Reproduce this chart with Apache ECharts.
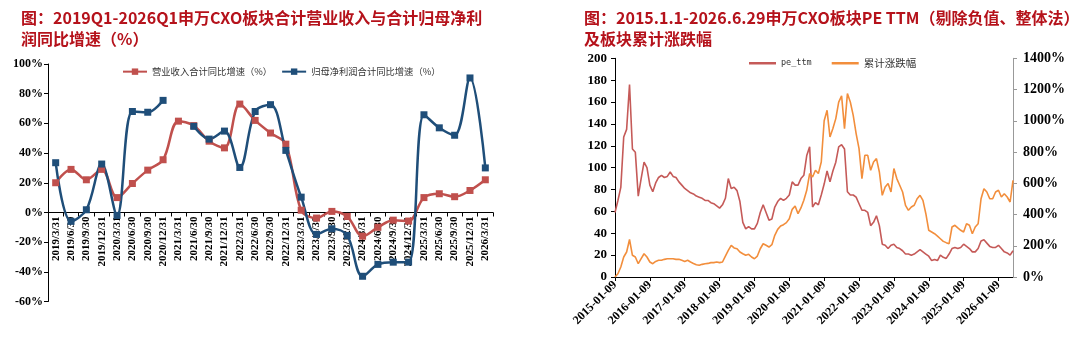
<!DOCTYPE html>
<html>
<head>
<meta charset="utf-8">
<title>CXO</title>
<script src="https://cdn.jsdelivr.net/npm/echarts/dist/echarts.min.js"></script>
<style>
  html, body { margin: 0; padding: 0; background: #fff; }
  #main { width: 1080px; height: 345px; }
</style>
</head>
<body>
<div id="main"></div>
<script>
// 左图：季度同比增速
var quarters = [
  '2019/3/31', '2019/6/30', '2019/9/30', '2019/12/31',
  '2020/3/31', '2020/6/30', '2020/9/30', '2020/12/31',
  '2021/3/31', '2021/6/30', '2021/9/30', '2021/12/31',
  '2022/3/31', '2022/6/30', '2022/9/30', '2022/12/31',
  '2023/3/31', '2023/6/30', '2023/9/30', '2023/12/31',
  '2024/3/31', '2024/6/30', '2024/9/30', '2024/12/31',
  '2025/3/31', '2025/6/30', '2025/9/30', '2025/12/31',
  '2026/3/31'
];
var revenueYoY = [20, 29, 22, 29, 10, 19.5, 28.5, 35.5, 61.5, 58.5, 48, 43.5, 73, 62, 53.5, 46,
  1.5, -3.8, 0.7, -2.7, -16, -10, -5.2, -5.8, 10, 12.6, 10.6, 14.8, 22];
var profitYoY = [33.5, -6, 1.8, 32.6, -2, 68, 67.5, 75.5, null, 58, 49.4, 54.8, 30.3, 68, 72.6, 41.8,
  10.3, -14.8, -11, -15.5, -43, -35, -33.5, -33.5, 65.8, 57, 52, 90.6, 30];

// 右图：月度采样 PE TTM 与累计涨跌幅(%)
var peTtm = [
  59, 70, 82, 128, 135, 176, 117, 114, 74, 90, 105, 100,   // 2015
  84, 78, 86, 91, 93, 91, 92, 96, 92, 91, 87, 84,          // 2016
  81, 79, 77, 76, 74, 73, 72, 70, 70, 68, 67, 65,          // 2017
  63, 66, 72, 90, 81, 82, 79, 69, 50, 44, 46, 44,          // 2018
  44, 49, 59, 66, 59, 52, 53, 64, 69, 72, 70, 72,          // 2019
  75, 87, 84, 84, 90, 93, 111, 119, 64, 68, 66, 75,        // 2020
  85, 97, 87, 97, 105, 119, 121, 117, 78, 75, 75, 73,      // 2021
  67, 61, 61, 59, 47, 50, 56, 47, 30, 29, 26, 29,          // 2022
  30, 27, 26, 24, 21, 21, 20, 21, 23, 25, 23, 21,          // 2023
  19, 15, 16, 15, 20, 18, 17, 21, 26, 27, 26, 27,          // 2024
  30, 28, 26, 23, 23, 26, 33, 34, 31, 28, 27, 27,          // 2025
  29, 26, 23, 22, 20, 24                                   // 2026
];
var cumChg = [
  0, 21, 64, 128, 160, 240, 139, 128, 85, 117, 149, 128,
  96, 85, 100, 107, 107, 113, 117, 117, 117, 113, 113, 107,
  100, 107, 96, 87, 79, 75, 81, 85, 87, 92, 92, 96,
  92, 96, 134, 171, 203, 186, 181, 160, 149, 139, 145, 128,
  117, 134, 181, 213, 203, 192, 207, 267, 305, 326, 335, 348,
  373, 433, 455, 405, 442, 491, 555, 662, 640, 683, 662, 736,
  1000, 1067, 896, 950, 1014, 1120, 1160, 950, 1174, 1120, 1035, 918,
  822, 630, 779, 779, 683, 736, 758, 672, 523, 576, 598, 544,
  694, 630, 587, 544, 459, 427, 448, 459, 501, 523, 491, 405,
  299, 288, 277, 262, 245, 228, 220, 213, 320, 331, 314, 299,
  288, 341, 331, 277, 320, 341, 501, 565, 544, 501, 501, 544,
  555, 512, 533, 512, 480, 619
];
var dates = [];
for (var y = 2015; y <= 2026; y++) {
  for (var m = 1; m <= 12; m++) {
    if (dates.length < peTtm.length) {
      dates.push(y + '-' + (m < 10 ? '0' + m : m) + '-09');
    }
  }
}
dates[dates.length - 1] = '2026-06-29';

var serif = '"Liberation Serif", "Times New Roman", serif';
var cjk = '"Noto Sans CJK SC", sans-serif';
var isYearTick = function (index, value) { return /-01-09$/.test(value); };

var myChart = echarts.init(document.getElementById('main'));

var option = {
  backgroundColor: '#fff',
  animation: false,
  title: [{
    text: '图：2019Q1-2026Q1申万CXO板块合计营业收入与合计归母净利\n润同比增速（%）',
    left: 16, top: 2,
    textStyle: { fontFamily: cjk, fontSize: 16, fontWeight: 'bold', color: '#B5121B', lineHeight: 21 }
  }, {
    text: '图：2015.1.1-2026.6.29申万CXO板块PE TTM（剔除负值、整体法）\n及板块累计涨跌幅',
    left: 579, top: 2,
    textStyle: { fontFamily: cjk, fontSize: 16, fontWeight: 'bold', color: '#B5121B', lineHeight: 21 }
  }],
  legend: [{
    left: 117, top: 62,
    itemWidth: 24, itemHeight: 8, itemGap: 9,
    textStyle: { fontFamily: cjk, fontSize: 9.3, color: '#333' },
    data: ['营业收入合计同比增速（%）', '归母净利润合计同比增速（%）']
  }, {
    left: 744, top: 53,
    icon: 'rect', itemWidth: 27, itemHeight: 2.5, itemGap: 20,
    textStyle: { fontFamily: cjk, fontSize: 10.5, color: '#333' },
    data: [{ name: 'pe_ttm', textStyle: { fontFamily: '"DejaVu Sans Mono", monospace', fontSize: 8.5 } }, '累计涨跌幅']
  }],
  grid: [
    { left: 48, top: 64, width: 445, height: 237.5, outerBoundsMode: 'none', containLabel: false },
    { left: 615, top: 58.3, width: 398, height: 218.7, outerBoundsMode: 'none', containLabel: false }
  ],
  xAxis: [{
    type: 'category', gridIndex: 0, data: quarters, boundaryGap: true,
    position: 'bottom', offset: -89,
    axisLine: { onZero: false, lineStyle: { color: '#000', width: 1 } },
    axisTick: { show: true, length: 4, lineStyle: { color: '#000' } },
    axisLabel: { rotate: 90, interval: 0, fontFamily: serif, fontWeight: 'bold', fontSize: 11, color: '#000', margin: 4 }
  }, {
    type: 'category', gridIndex: 1, data: dates, boundaryGap: false,
    axisLine: { lineStyle: { color: '#000', width: 1 } },
    axisTick: { interval: isYearTick, length: 4, lineStyle: { color: '#000' } },
    axisLabel: { rotate: 45, interval: isYearTick, fontFamily: serif, fontWeight: 'bold', fontSize: 12, color: '#000', margin: 6 }
  }],
  yAxis: [{
    type: 'value', gridIndex: 0, min: -60, max: 100, interval: 20,
    splitLine: { show: false },
    axisLine: { show: true, lineStyle: { color: '#000' } },
    axisTick: { show: true, length: 4, lineStyle: { color: '#000' } },
    axisLabel: { formatter: function (v) { return v + '%'; }, fontFamily: serif, fontWeight: 'bold', fontSize: 12, color: '#000', margin: 5 }
  }, {
    type: 'value', gridIndex: 1, min: 0, max: 200, interval: 20,
    splitLine: { show: false },
    axisLine: { show: true, lineStyle: { color: '#000' } },
    axisTick: { show: true, length: 4, lineStyle: { color: '#000' } },
    axisLabel: { fontFamily: serif, fontWeight: 'bold', fontSize: 13, color: '#000', margin: 8 }
  }, {
    type: 'value', gridIndex: 1, position: 'right', min: 0, max: 1400, interval: 200,
    splitLine: { show: false },
    axisLine: { show: true, lineStyle: { color: '#999' } },
    axisTick: { show: true, length: 4, lineStyle: { color: '#999' } },
    axisLabel: { formatter: function (v) { return v + '%'; }, fontFamily: serif, fontWeight: 'bold', fontSize: 14, color: '#000', margin: 10 }
  }],
  series: [{
    name: '营业收入合计同比增速（%）',
    type: 'line', xAxisIndex: 0, yAxisIndex: 0,
    data: revenueYoY, smooth: 0.35,
    symbol: 'rect', symbolSize: 7,
    lineStyle: { color: '#C0504D', width: 2.5 },
    itemStyle: { color: '#C0504D' }
  }, {
    name: '归母净利润合计同比增速（%）',
    type: 'line', xAxisIndex: 0, yAxisIndex: 0,
    data: profitYoY, smooth: 0.35, connectNulls: false,
    symbol: 'rect', symbolSize: 7,
    lineStyle: { color: '#1F4E79', width: 2.5 },
    itemStyle: { color: '#1F4E79' }
  }, {
    name: 'pe_ttm',
    type: 'line', xAxisIndex: 1, yAxisIndex: 1,
    data: peTtm, symbol: 'none',
    lineStyle: { color: '#C55A58', width: 1.6 },
    itemStyle: { color: '#C55A58' }
  }, {
    name: '累计涨跌幅',
    type: 'line', xAxisIndex: 1, yAxisIndex: 2,
    data: cumChg, symbol: 'none',
    lineStyle: { color: '#F28E3C', width: 1.6 },
    itemStyle: { color: '#F28E3C' }
  }]
};

myChart.setOption(option);
</script>
</body>
</html>
